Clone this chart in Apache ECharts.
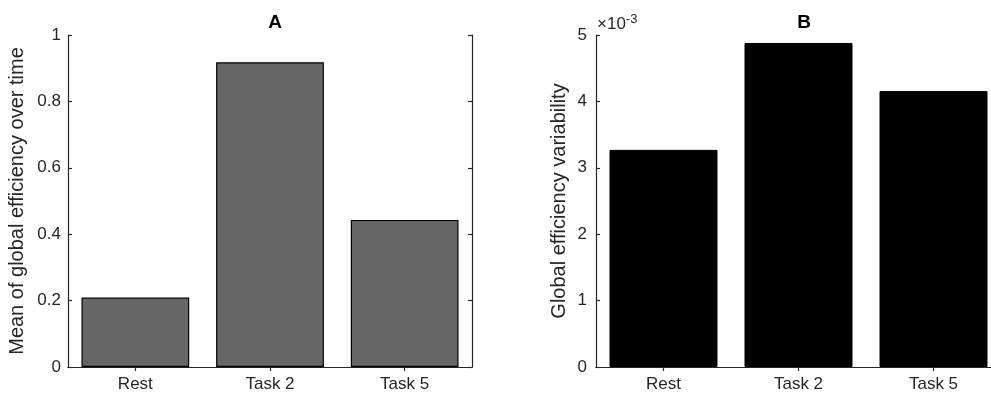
<!DOCTYPE html>
<html>
<head>
<meta charset="utf-8">
<script src="https://cdn.jsdelivr.net/npm/echarts@6/dist/echarts.min.js"></script>
<style>
  html, body { margin: 0; padding: 0; background: #fff; }
  #chart { width: 991px; height: 394px; }
</style>
</head>
<body>
<div id="chart"></div>
<script>
// Conditions shown on both panels
const categories = ['Rest', 'Task 2', 'Task 5'];
// Panel A: mean of global efficiency over time
const meanEfficiency = [0.209, 0.918, 0.443];
// Panel B: global efficiency variability (raw values, labelled in units of 10^-3)
const efficiencyVariability = [0.00327, 0.00488, 0.004155];
const yTicksA = { min: 0, max: 1, interval: 0.2 };
const yTicksB = { min: 0, max: 0.005, interval: 0.001 };

const ink = '#262626';
const fontFamily = 'Liberation Sans, Arial, Helvetica, sans-serif';

function catAxis(grid, pos, showLabels) {
  return {
    type: 'category', gridIndex: grid, position: pos, data: categories,
    boundaryGap: true,
    axisLine: { show: true, lineStyle: { color: ink, width: 1.2 } },
    axisTick: { show: true, inside: true, alignWithLabel: true, length: 4, lineStyle: { color: ink, width: 1.2 } },
    axisLabel: { show: showLabels, color: ink, fontSize: 17, fontFamily, margin: 9 },
    splitLine: { show: false }
  };
}

function valAxis(grid, pos, ticks, showLabels, extra) {
  return Object.assign({
    type: 'value', gridIndex: grid, position: pos,
    min: ticks.min, max: ticks.max, interval: ticks.interval,
    axisLine: { show: true, onZero: false, lineStyle: { color: ink, width: 1.2 } },
    axisTick: { show: true, inside: true, length: 4, lineStyle: { color: ink, width: 1.2 } },
    axisLabel: { show: showLabels, color: ink, fontSize: 17, fontFamily, margin: 7 },
    splitLine: { show: false }
  }, extra || {});
}

const chart = echarts.init(document.getElementById('chart'), null, { renderer: 'canvas' });
chart.setOption({
  backgroundColor: '#ffffff',
  animation: false,
  textStyle: { fontFamily },
  title: [
    { text: 'A', left: 270, top: 8, textAlign: 'center',
      textStyle: { fontSize: 19, fontWeight: 'bold', color: '#000', fontFamily } },
    { text: 'B', left: 799, top: 8, textAlign: 'center',
      textStyle: { fontSize: 19, fontWeight: 'bold', color: '#000', fontFamily } }
  ],
  grid: [
    { left: 68, top: 35, width: 404, height: 332, outerBoundsMode: 'none' },
    // the right-hand frame of panel B runs past the page edge
    { left: 596, top: 35, width: 405, height: 332, outerBoundsMode: 'none' }
  ],
  xAxis: [
    catAxis(0, 'bottom', true),
    catAxis(0, 'top', false),
    catAxis(1, 'bottom', true),
    catAxis(1, 'top', false)
  ],
  yAxis: [
    valAxis(0, 'left', yTicksA, true, {
      name: 'Mean of global efficiency over time', nameLocation: 'middle', nameGap: 41,
      nameTextStyle: { fontSize: 20, color: ink, fontFamily }
    }),
    valAxis(0, 'right', yTicksA, false),
    valAxis(1, 'left', yTicksB, true, {
      name: 'Global efficiency variability', nameLocation: 'middle', nameGap: 27,
      nameTextStyle: { fontSize: 20, color: ink, fontFamily },
      axisLabel: { show: true, color: ink, fontSize: 17, fontFamily, margin: 9,
        formatter: v => String(Math.round(v * 1000)) }
    }),
    valAxis(1, 'right', yTicksB, false)
  ],
  graphic: [
    {
      type: 'text', left: 597, top: 13,
      style: {
        text: '×10{sup|-3}',
        fill: ink, font: '17px ' + fontFamily,
        rich: { sup: { fontSize: 13, verticalAlign: 'top', padding: [0, 0, 9, 0], fill: ink } }
      }
    }
  ],
  series: [
    {
      type: 'bar', xAxisIndex: 0, yAxisIndex: 0, data: meanEfficiency, barWidth: '80%',
      itemStyle: { color: '#666666', borderColor: '#000', borderWidth: 1.2 }
    },
    {
      type: 'bar', xAxisIndex: 2, yAxisIndex: 2, data: efficiencyVariability, barWidth: '80%',
      itemStyle: { color: '#000000', borderColor: '#000', borderWidth: 1 }
    }
  ]
});
</script>
</body>
</html>
